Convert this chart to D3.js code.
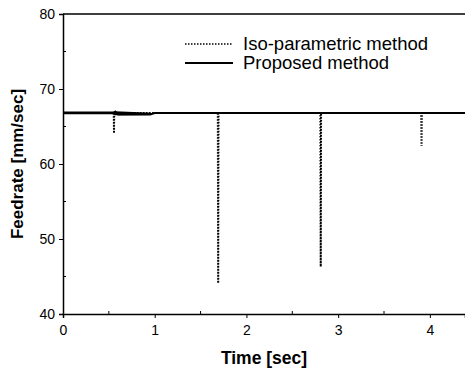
<!DOCTYPE html>
<html>
<head>
<meta charset="utf-8">
<script src="https://cdn.jsdelivr.net/npm/d3@7"></script>
<style>
  body { margin: 0; background: #fff; }
  svg { display: block; font-family: "Liberation Sans", Arial, sans-serif; }
</style>
</head>
<body>
<div id="viz"></div>
<script>
// Iso-parametric: flat feedrate with short drops at the segment joints
var isoTime  = [0, 0.553, 0.556, 0.559, 1.688, 1.692, 1.696, 2.806, 2.810, 2.814, 3.905, 3.909, 3.913, 4.4];
var isoValue = [66.8, 66.8, 64.1, 66.8, 66.8, 44.1, 66.8, 66.8, 46.3, 66.8, 66.8, 62.4, 66.8, 66.8];

// Proposed: nearly constant, slightly noisy during the first second
var propTime  = [0, 0.55, 0.57, 0.6, 0.95, 1.0, 4.4];
var propValue = [66.8, 66.8, 67.0, 66.6, 66.6, 66.8, 66.8];
var bandTime = [0, 0.55, 0.57, 0.96];
var bandLow  = [66.65, 66.65, 66.5, 66.55];
var bandHigh = [67.0, 67.0, 67.05, 66.85];

var xTicks = [0, 1, 2, 3, 4];
var xMinor = [0.5, 1.5, 2.5, 3.5];
var yTicks = [40, 50, 60, 70, 80];
var yMinor = [45, 55, 65, 75];

var legendNames = ['Iso-parametric method', 'Proposed method'];

var w = 465, h = 372;
var m = {left: 63, top: 14, bottom: 314};

var x = d3.scaleLinear().domain([0, 4.383]).range([m.left, w]);
var y = d3.scaleLinear().domain([40, 80]).range([m.bottom, m.top]);

var svg = d3.select('#viz').append('svg')
  .attr('width', w)
  .attr('height', h);

// frame (top + axes)
svg.append('line')
  .attr('x1', x(0)).attr('x2', w)
  .attr('y1', y(80)).attr('y2', y(80))
  .attr('stroke', '#000').attr('stroke-width', 1.5);

var xAxis = svg.append('g')
  .attr('transform', 'translate(0,' + m.bottom + ')')
  .call(d3.axisBottom(x).tickValues(xTicks).tickFormat(d3.format('d')).tickSize(4).tickPadding(7));
xAxis.select('.domain').attr('stroke-width', 1.5);
xAxis.selectAll('text').style('font-size', '14px').attr('fill', '#000');

xAxis.selectAll('.minor')
  .data(xMinor)
  .enter().append('line')
  .attr('x1', d => x(d)).attr('x2', d => x(d))
  .attr('y1', 0).attr('y2', -3)
  .attr('stroke', '#000');

var yAxis = svg.append('g')
  .attr('transform', 'translate(' + m.left + ',0)')
  .call(d3.axisLeft(y).tickValues(yTicks).tickSize(4).tickPadding(4));
yAxis.select('.domain').attr('stroke-width', 1.5);
yAxis.selectAll('text').style('font-size', '14px').attr('fill', '#000');

yAxis.selectAll('.minor')
  .data(yMinor)
  .enter().append('line')
  .attr('x1', 0).attr('x2', 3)
  .attr('y1', d => y(d)).attr('y2', d => y(d))
  .attr('stroke', '#000');

// axis titles
svg.append('text')
  .attr('x', 264).attr('y', 364)
  .attr('text-anchor', 'middle')
  .style('font-size', '17.5px').style('font-weight', 'bold')
  .text('Time [sec]');

svg.append('text')
  .attr('transform', 'translate(23,' + ((m.top + m.bottom) / 2) + ') rotate(-90)')
  .attr('text-anchor', 'middle')
  .style('font-size', '17px').style('font-weight', 'bold')
  .text('Feedrate [mm/sec]');

// proposed: noisy band + line
var bandData = bandTime.map((t, i) => ({t: t, lo: bandLow[i], hi: bandHigh[i]}));
svg.append('path')
  .datum(bandData)
  .attr('d', d3.area().x(d => x(d.t)).y0(d => y(d.lo)).y1(d => y(d.hi)))
  .attr('fill', '#000');

var propData = propTime.map((t, i) => ({t: t, v: propValue[i]}));
svg.append('path')
  .datum(propData)
  .attr('d', d3.line().x(d => x(d.t)).y(d => y(d.v)))
  .attr('fill', 'none')
  .attr('stroke', '#000')
  .attr('stroke-width', 2);

// iso-parametric: dotted
var isoData = isoTime.map((t, i) => ({t: t, v: isoValue[i]}));
svg.append('path')
  .datum(isoData)
  .attr('d', d3.line().x(d => x(d.t)).y(d => y(d.v)))
  .attr('fill', 'none')
  .attr('stroke', '#000')
  .attr('stroke-width', 2)
  .attr('stroke-dasharray', '1.5,1.5');

// legend
var legend = svg.append('g').attr('transform', 'translate(185,44)');
legend.selectAll('line')
  .data(legendNames)
  .enter().append('line')
  .attr('x1', 0).attr('x2', 48)
  .attr('y1', (d, i) => i * 19).attr('y2', (d, i) => i * 19)
  .attr('stroke', '#000')
  .attr('stroke-width', (d, i) => i ? 2 : 1.5)
  .attr('stroke-dasharray', (d, i) => i ? null : '1.5,1.5');
legend.selectAll('text')
  .data(legendNames)
  .enter().append('text')
  .attr('x', 58)
  .attr('y', (d, i) => i * 19 + 6)
  .style('font-size', '18.5px')
  .text(d => d);
</script>
</body>
</html>
